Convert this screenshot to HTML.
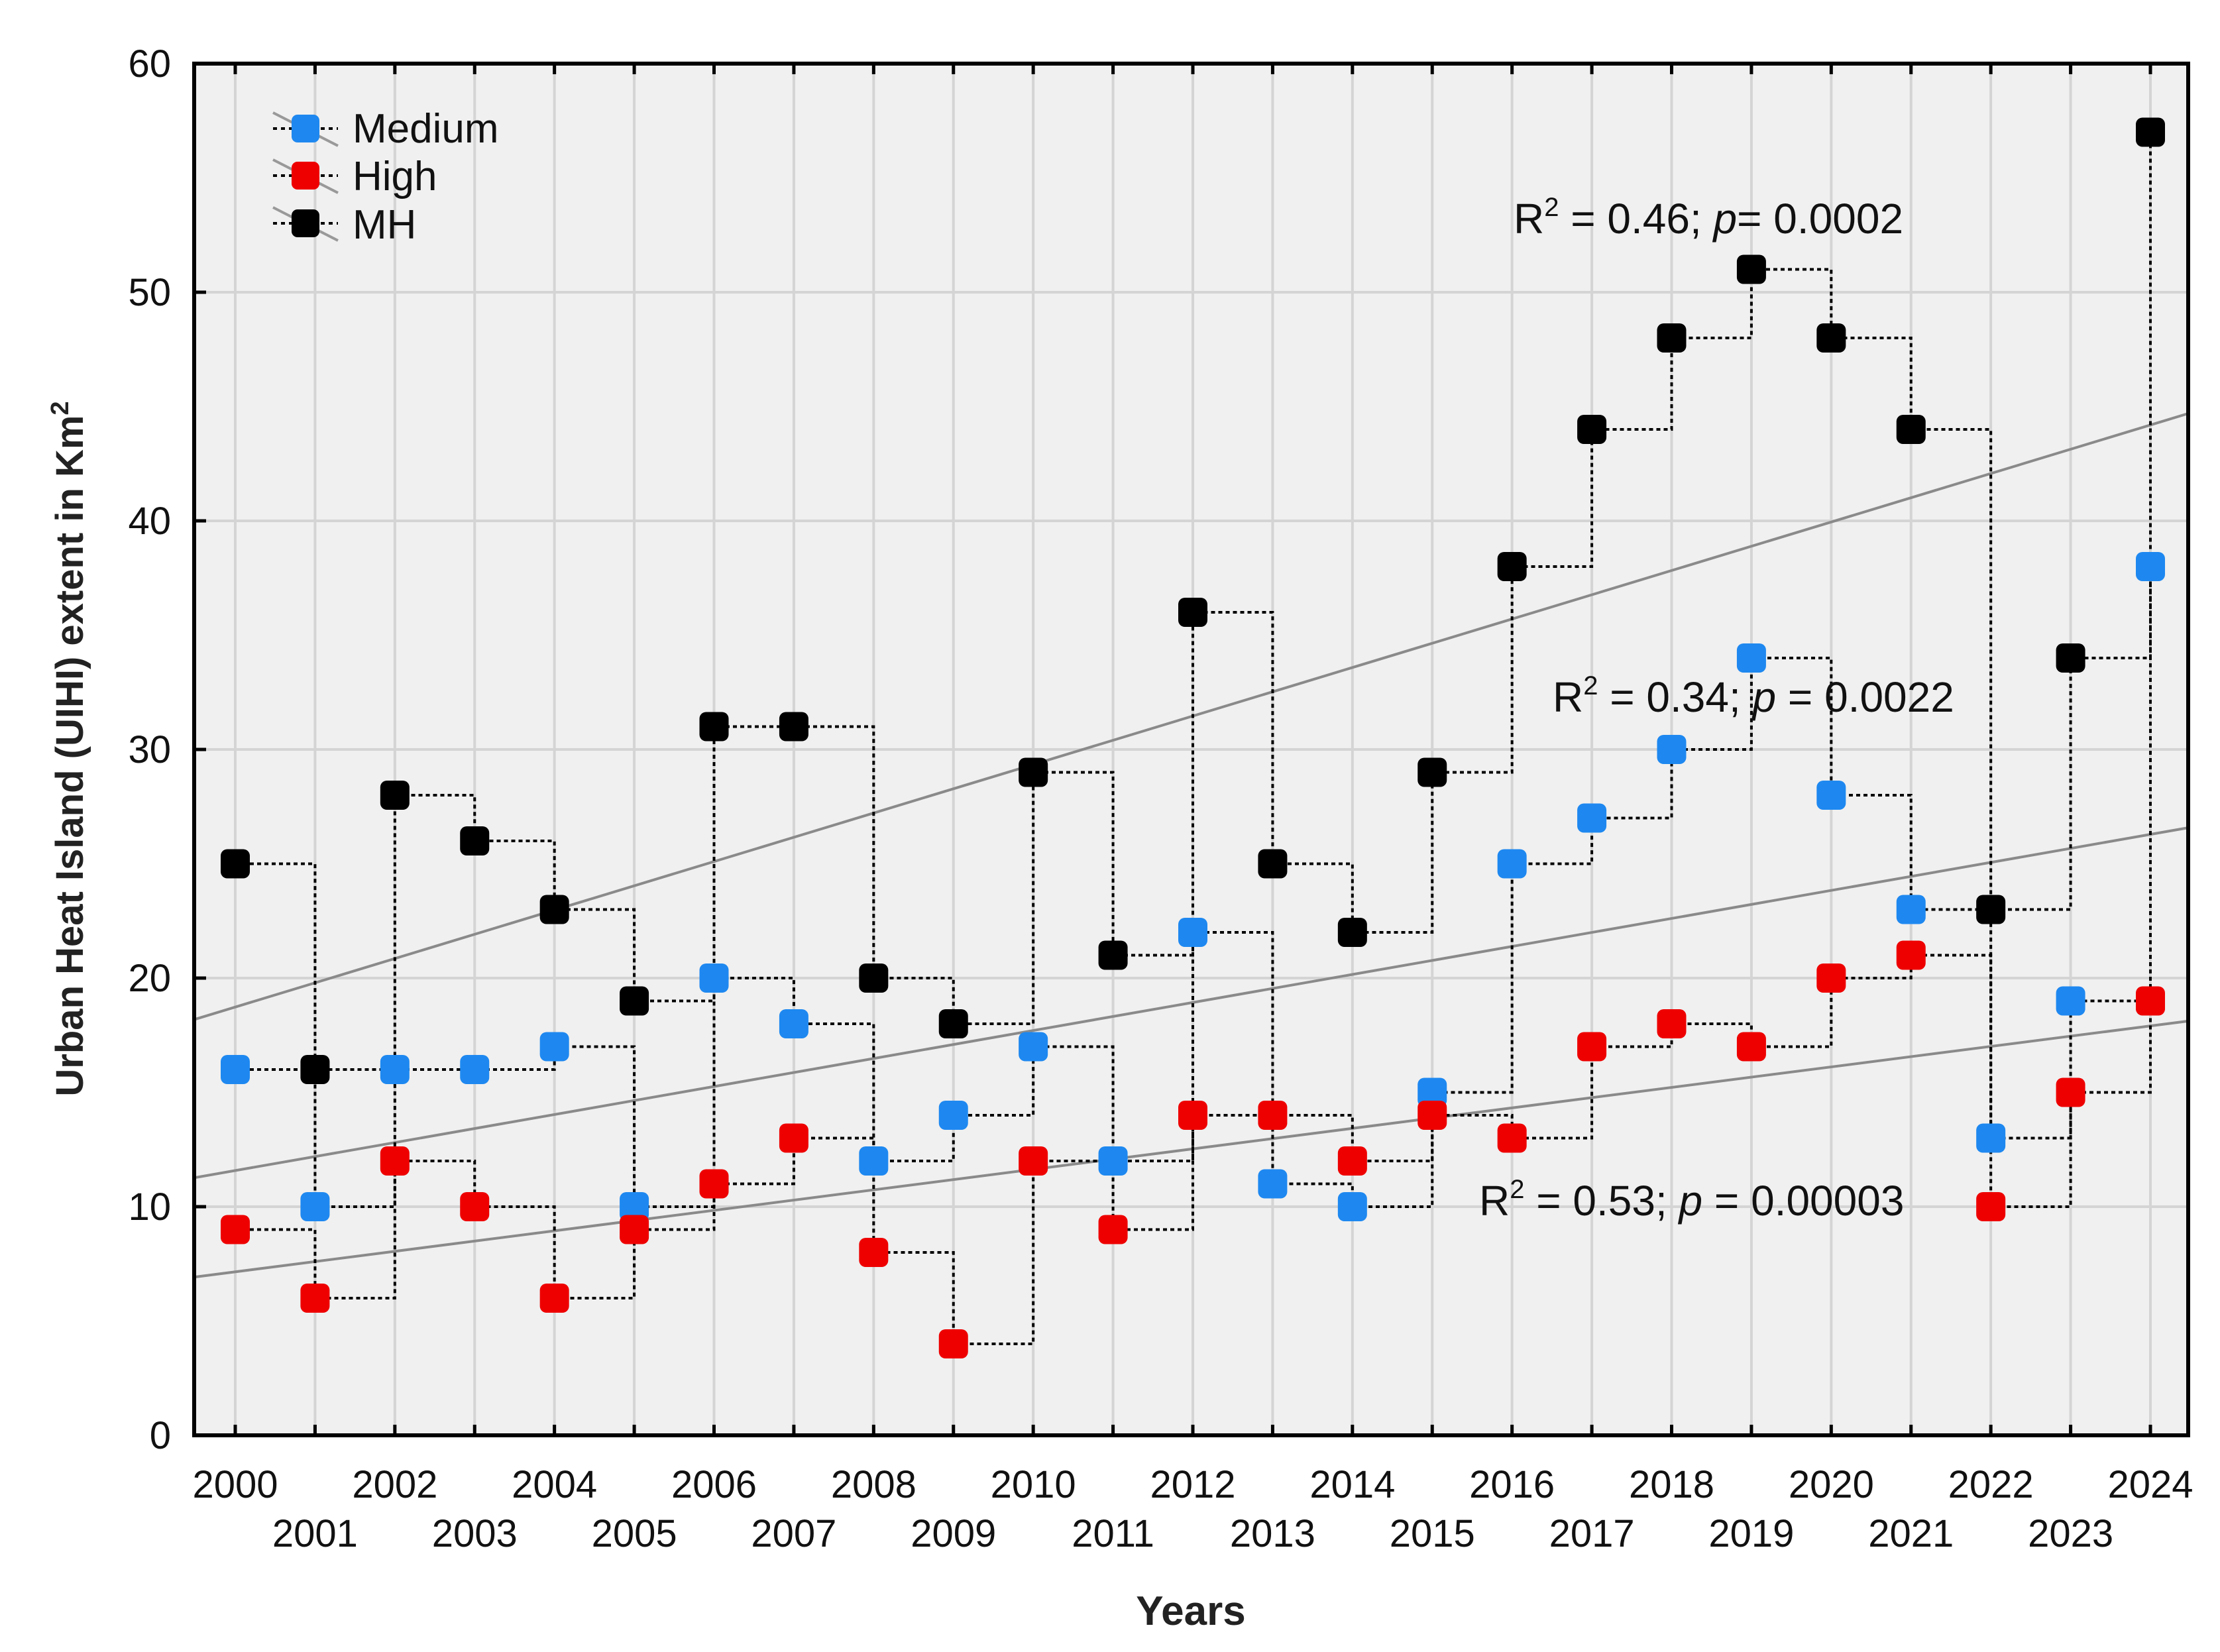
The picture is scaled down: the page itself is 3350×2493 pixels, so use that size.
<!DOCTYPE html>
<html><head><meta charset="utf-8"><style>
html,body{margin:0;padding:0;background:#fff;}
svg{display:block;font-family:"Liberation Sans",Arial,sans-serif;}
</style></head><body>
<svg id="chart" width="3350" height="2493" viewBox="0 0 3350 2493" xmlns="http://www.w3.org/2000/svg">
<rect x="0" y="0" width="3350" height="2493" fill="#fff"/>
<rect id="plotbg" x="293" y="96" width="3009" height="2070" fill="#f0f0f0"/>
<g id="grid"></g>
<g id="trends"></g>
<g id="steps"></g>
<g id="marks"></g>
<rect x="293" y="96" width="3009" height="2070" fill="none" stroke="#000" stroke-width="6"/>
<g id="axes"></g>
<g font-size="64" fill="#111">
<text x="2284" y="352">R<tspan dy="-26" font-size="40">2</tspan><tspan dy="26"> = 0.46; </tspan><tspan font-style="italic">p</tspan>= 0.0002</text>
<text x="2343" y="1074">R<tspan dy="-26" font-size="40">2</tspan><tspan dy="26"> = 0.34; </tspan><tspan font-style="italic">p</tspan> = 0.0022</text>
<text x="2232" y="1834">R<tspan dy="-26" font-size="40">2</tspan><tspan dy="26"> = 0.53; </tspan><tspan font-style="italic">p</tspan> = 0.00003</text>
</g>
<g font-size="62" fill="#111">
<g>
<line x1="412" y1="170" x2="510" y2="220" stroke="#999" stroke-width="4"/><line x1="412" y1="194" x2="510" y2="194" stroke="#000" stroke-width="4" stroke-dasharray="6,6"/>
<rect x="440" y="173" width="42" height="42" rx="9" fill="#1e88f0"/><text x="532" y="215">Medium</text></g>
<g>
<line x1="412" y1="241" x2="510" y2="291" stroke="#999" stroke-width="4"/><line x1="412" y1="265" x2="510" y2="265" stroke="#000" stroke-width="4" stroke-dasharray="6,6"/>
<rect x="440" y="244" width="42" height="42" rx="9" fill="#ee0000"/><text x="532" y="287">High</text></g>
<g>
<line x1="412" y1="313" x2="510" y2="363" stroke="#999" stroke-width="4"/><line x1="412" y1="337" x2="510" y2="337" stroke="#000" stroke-width="4" stroke-dasharray="6,6"/>
<rect x="440" y="316" width="42" height="42" rx="9" fill="#000"/><text x="532" y="360">MH</text></g>
</g>
<text x="1797" y="2452" text-anchor="middle" font-size="62" font-weight="bold" fill="#222">Years</text>
<text transform="translate(125,1130) rotate(-90)" text-anchor="middle" font-size="58" font-weight="bold" fill="#222">Urban Heat Island (UIHI) extent in Km<tspan dy="-22" font-size="38">2</tspan></text>
</svg>
<script>
const years = [2000,2001,2002,2003,2004,2005,2006,2007,2008,2009,2010,2011,2012,2013,2014,2015,2016,2017,2018,2019,2020,2021,2022,2023,2024];
const mediumValues = [16,10,16,16,17,10,20,18,12,14,17,12,22,11,10,15,25,27,30,34,28,23,13,19,38];
const highValues = [9,6,12,10,6,9,11,13,8,4,12,9,14,14,12,14,13,17,18,17,20,21,10,15,19];
const mhValues = [25,16,28,26,23,19,31,31,20,18,29,21,36,25,22,29,38,44,48,51,48,44,23,34,57];
const yTicks = [0,10,20,30,40,50,60];

const NS = 'http://www.w3.org/2000/svg';
const L = 293, R = 3302, T = 96, B = 2166;
const xMin = 1999.5147, xMax = 2024.4867;
function xs(v){ return 355 + (v - 2000) * (3245 - 355) / 24; }
function ys(v){ return B - v * (B - T) / 60; }
function mk(tag, attrs, parent){
  const e = document.createElementNS(NS, tag);
  for (const k in attrs) e.setAttribute(k, attrs[k]);
  parent.appendChild(e); return e;
}
const grid = document.getElementById('grid');
const axes = document.getElementById('axes');
years.forEach((yr, i) => {
  const g = mk('line', {x1: xs(yr), x2: xs(yr), y1: T, y2: B, stroke: '#d4d4d4', 'stroke-width': 4}, grid);
  
  
  mk('line', {x1: xs(yr), x2: xs(yr), y1: B, y2: B - 16, stroke: '#000', 'stroke-width': 5}, axes);
  mk('line', {x1: xs(yr), x2: xs(yr), y1: T, y2: T + 16, stroke: '#000', 'stroke-width': 5}, axes);
  const t = mk('text', {x: xs(yr), y: (i % 2 === 0) ? 2260 : 2334, 'text-anchor': 'middle', 'font-size': 58, fill: '#111'}, axes);
  t.textContent = yr;
  
  
});
yTicks.forEach(v => {
  if (v > 0 && v < 60) {
    const g = mk('line', {x1: L, x2: R, y1: ys(v), y2: ys(v), stroke: '#d4d4d4', 'stroke-width': 4}, grid);
    
    
  }
  mk('line', {x1: L, x2: L + 18, y1: ys(v), y2: ys(v), stroke: '#000', 'stroke-width': 5}, axes);
  const t = mk('text', {x: 258, y: ys(v) + 20, 'text-anchor': 'end', 'font-size': 58, fill: '#111'}, axes);
  t.textContent = v;
  
  
});
const series = [
  {name: 'mh', vals: mhValues, color: '#000'},
  {name: 'medium', vals: mediumValues, color: '#1e88f0'},
  {name: 'high', vals: highValues, color: '#ee0000'}
];
const trends = document.getElementById('trends');
const steps = document.getElementById('steps');
const marks = document.getElementById('marks');
series.forEach(s => {
  const n = years.length;
  const mx = years.reduce((a, b) => a + b, 0) / n;
  const my = s.vals.reduce((a, b) => a + b, 0) / n;
  let sxy = 0, sxx = 0;
  years.forEach((x, i) => { sxy += (x - mx) * (s.vals[i] - my); sxx += (x - mx) * (x - mx); });
  const b = sxy / sxx, a = my - b * mx;
  const tl = mk('line', {x1: L, y1: ys(a + b * xMin), x2: R, y2: ys(a + b * xMax), stroke: '#8a8a8a', 'stroke-width': 4}, trends);
  
  
  let d = 'M' + xs(years[0]) + ' ' + ys(s.vals[0]);
  for (let i = 1; i < n; i++) d += ' H' + xs(years[i]) + ' V' + ys(s.vals[i]);
  const p = mk('path', {d: d, fill: 'none', stroke: '#000', 'stroke-width': 4, 'stroke-dasharray': '6,5'}, steps);
  
  
});
series.forEach(s => {
  s.vals.forEach((v, i) => {
    const r = mk('rect', {x: xs(years[i]) - 22, y: ys(v) - 22, width: 44, height: 44, rx: 10, fill: s.color}, marks);
    
    
  });
});
</script>
</body></html>
